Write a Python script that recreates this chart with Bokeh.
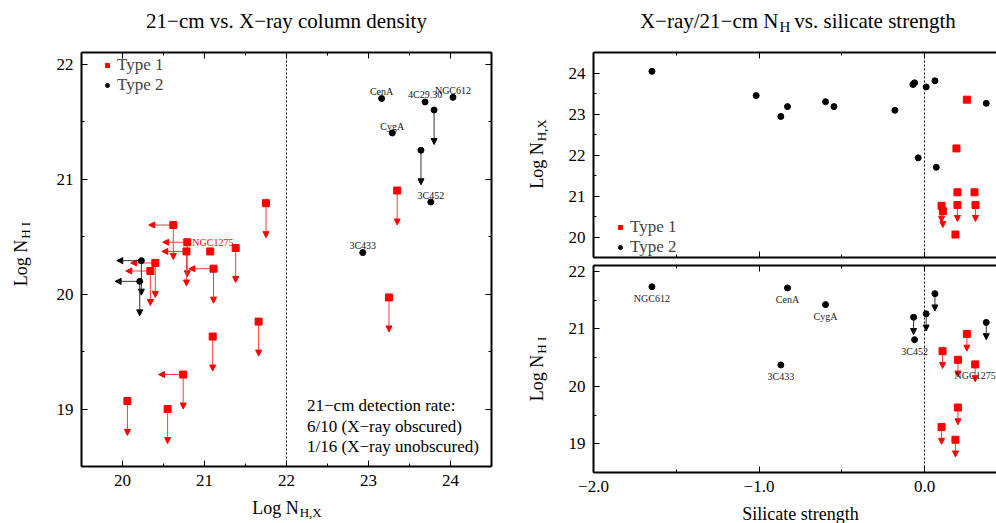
import numpy as np
from bokeh.plotting import figure
from bokeh.models import (ColumnDataSource, Arrow, NormalHead, Span, LinearAxis,
                          FixedTicker, Legend, LegendItem, Range1d, CustomJSTickFormatter)
from bokeh.layouts import row, column
from bokeh.embed import file_html
from bokeh.resources import INLINE
from bokeh.core.properties import value

FONT = "Liberation Serif"
RED = "#ff0000"
BLACK = "#000000"

# ---------------- data: left panel (Log NH,X vs Log NHI) ----------------
t1_nhx = [21.75, 20.62, 20.79, 20.78, 21.07, 21.38, 20.40, 20.34, 21.11, 21.66, 21.10, 20.74, 20.06, 20.55, 23.35, 23.25]
t1_nhi = [20.79, 20.60, 20.45, 20.37, 20.37, 20.40, 20.27, 20.20, 20.22, 19.76, 19.63, 19.30, 19.07, 19.00, 20.90, 19.97]
t1_xlim = [0, 1, 1, 1, 0, 0, 1, 1, 1, 0, 0, 1, 0, 0, 0, 0]
t1_ylim = [1, 1, 1, 1, 0, 1, 1, 1, 1, 1, 1, 1, 1, 1, 1, 1]
t1_names = ["", "", "NGC1275", "", "", "", "", "", "", "", "", "", "", "", "", ""]

t2_nhx = [20.23, 20.21, 23.16, 23.69, 24.03, 23.80, 23.29, 23.64, 23.76, 22.93]
t2_nhi = [20.29, 20.11, 21.70, 21.67, 21.71, 21.60, 21.40, 21.25, 20.80, 20.36]
t2_xlim = [1, 1, 0, 0, 0, 0, 0, 0, 0, 0]
t2_ylim = [1, 1, 0, 0, 0, 1, 0, 1, 0, 0]
t2_names = ["", "", "CenA", "4C29.30", "NGC612", "", "CygA", "", "3C452", "3C433"]

# ---------------- data: right top (silicate vs Log NH,X) ----------------
rt1_sil = [0.256, 0.193, 0.199, 0.302, 0.103, 0.111, 0.199, 0.308, 0.187]
rt1_nhx = [23.35, 22.16, 21.09, 21.09, 20.76, 20.63, 20.78, 20.78, 20.06]
rt1_ylim = [0, 0, 0, 0, 1, 1, 1, 1, 0]
rt2_sil = [-1.647, -1.017, -0.868, -0.828, -0.598, -0.547, -0.179, -0.070, -0.060, 0.010, 0.063, 0.373, -0.038, 0.071]
rt2_nhx = [24.04, 23.45, 22.94, 23.18, 23.30, 23.18, 23.09, 23.72, 23.76, 23.66, 23.81, 23.26, 21.93, 21.70]

# ---------------- data: right bottom (silicate vs Log NHI) ----------------
rb1_sil = [0.256, 0.109, 0.202, 0.306, 0.202, 0.103, 0.187]
rb1_nhi = [20.91, 20.61, 20.46, 20.38, 19.63, 19.29, 19.07]
rb1_ylim = [1, 1, 1, 1, 1, 1, 1]
rb1_names = ["", "", "", "NGC1275", "", "", ""]
rb2_sil = [-1.647, -0.828, -0.598, -0.868, -0.066, 0.010, 0.063, 0.373, -0.060]
rb2_nhi = [21.73, 21.71, 21.42, 20.37, 21.20, 21.26, 21.61, 21.11, 20.81]
rb2_ylim = [0, 0, 0, 0, 1, 1, 1, 1, 0]
rb2_names = ["NGC612", "CenA", "CygA", "3C433", "", "", "", "", "3C452"]

# note in the left panel
note_lines = ["21\u2212cm detection rate:", "6/10 (X\u2212ray obscured)", "1/16 (X\u2212ray unobscured)"]
note_x = 22.25
note_y = [19.03, 18.85, 18.67]

# ticks
left_xticks = [20, 21, 22, 23, 24]
left_xminor = [19.5, 20.5, 21.5, 22.5, 23.5, 24.5]
left_yticks = [19, 20, 21, 22]
left_yminor = [18.5, 19.5, 20.5, 21.5]
rt_yticks = [20, 21, 22, 23, 24]
rt_yminor = [19.5, 20.5, 21.5, 22.5, 23.5, 24.5]
sil_ticks = [-2, -1, 0]
sil_minor = [-1.5, -0.5]
sil_labels = {-2: "\u22122.0", -1: "\u22121.0", 0: "0.0"}

ARROW_LEFT = 0.3     # dex, length of limit arrows in the left panel
ARROW_RT = 0.4       # right top
ARROW_RB = 0.3       # right bottom

CW = {'L': .611, 'o': .5, 'g': .5, ' ': .25, 'N': .722, 'H': .722, 'I': .333, ',': .25, 'X': .722,
      '\u2212': .564, 'r': .333, 'a': .444, 'y': .5, '/': .278, '2': .5, '1': .5, 'c': .444, 'm': .778}


def tw(s, size):
    return sum(CW.get(ch, 0.5) for ch in s) * size


def make_fig(w, h, xr, yr, mb):
    p = figure(width=w, height=h, x_range=Range1d(*xr), y_range=Range1d(*yr),
               output_backend="svg", toolbar_location=None,
               x_axis_location=None, y_axis_location=None,
               min_border_left=mb[0], min_border_right=mb[1], min_border_top=mb[2], min_border_bottom=mb[3])
    p.outline_line_color = None
    p.xgrid.grid_line_color = None
    p.ygrid.grid_line_color = None
    p.background_fill_color = "white"
    p.border_fill_color = "white"
    return p


def strip(w, h):
    """A blank text carrier whose frame is the whole canvas, coordinates in pixels (y down)."""
    s = figure(width=w, height=h, x_range=Range1d(0, w), y_range=Range1d(h, 0),
               output_backend="svg", toolbar_location=None,
               x_axis_location=None, y_axis_location=None,
               min_border_left=0, min_border_right=0, min_border_top=0, min_border_bottom=0)
    s.outline_line_color = None
    s.xgrid.grid_line_color = None
    s.ygrid.grid_line_color = None
    s.background_fill_color = "white"
    s.border_fill_color = "white"
    return s


def stxt(s, x, y, text, size, align="center", baseline="middle", angle=0.0, color="black"):
    s.text(x=[x], y=[y], text=[text], text_font=value(FONT), text_font_size=f"{size}px",
           text_align=align, text_baseline=baseline, angle=angle, text_color=color)


def sub_text(s, cx, cy, main, sub, rotated=False, size=18, subsize=13):
    wm = tw(main, size)
    ws = tw(sub, subsize)
    if not rotated:
        xN = cx - (wm + ws) / 2 + wm
        stxt(s, xN, cy, main, size, align="right")
        stxt(s, xN + 1, cy + 5, sub, subsize, align="left")
    else:
        yN = cy + (wm + ws) / 2 - wm
        stxt(s, cx, yN, main, size, align="right", angle=np.pi / 2)
        stxt(s, cx + 5, yN - 1, sub, subsize, align="left", angle=np.pi / 2)


def make_axis(ticks, minor, show, overrides=None):
    ax = LinearAxis(ticker=FixedTicker(ticks=ticks, minor_ticks=minor))
    ax.axis_line_width = 2
    ax.axis_line_color = "black"
    ax.major_tick_in = 6
    ax.major_tick_out = 0
    ax.minor_tick_in = 3
    ax.minor_tick_out = 0
    ax.major_tick_line_color = "black"
    ax.minor_tick_line_color = "black"
    ax.axis_label = None
    ax.major_label_text_font = FONT
    ax.major_label_text_color = "black"
    if show:
        ax.major_label_text_font_size = "17px"
        ax.major_label_standoff = 8
        if overrides:
            ax.major_label_overrides = overrides
    else:
        ax.formatter = CustomJSTickFormatter(code="return ''")
        ax.major_label_text_font_size = "1px"
        ax.major_label_standoff = 0
    return ax


def add_arrows(p, xs, ys, dx, dy, color, lcolor):
    xs = np.asarray(xs, float)
    ys = np.asarray(ys, float)
    if len(xs) == 0:
        return
    src = ColumnDataSource(dict(x0=xs, y0=ys, x1=xs - dx, y1=ys - dy))
    a = Arrow(end=NormalHead(size=6, fill_color=color, line_color=color, line_width=1),
              x_start="x0", y_start="y0", x_end="x1", y_end="y1", source=src,
              line_color=lcolor, line_width=1, level="underlay")
    p.add_layout(a)


def limit_arrows(p, xs, ys, xflag, yflag, length, color, lcolor):
    xs = np.asarray(xs, float); ys = np.asarray(ys, float)
    xf = np.asarray(xflag, bool); yf = np.asarray(yflag, bool)
    add_arrows(p, xs[xf], ys[xf], length, 0.0, color, lcolor)
    add_arrows(p, xs[yf], ys[yf], 0.0, length, color, lcolor)


def name_text(p, xs, ys, names, color, below=False, right=False):
    sel = [i for i, n in enumerate(names) if n]
    src = ColumnDataSource(dict(x=[xs[i] for i in sel], y=[ys[i] for i in sel], t=[names[i] for i in sel]))
    if right:
        p.text(x="x", y="y", text="t", source=src, text_font=value(FONT), text_font_size="10px",
               text_align="left", text_baseline="middle", x_offset=5, text_color=color)
    elif below:
        p.text(x="x", y="y", text="t", source=src, text_font=value(FONT), text_font_size="10px",
               text_align="center", text_baseline="top", y_offset=6, text_color=color)
    else:
        p.text(x="x", y="y", text="t", source=src, text_font=value(FONT), text_font_size="10px",
               text_align="center", text_baseline="alphabetic", y_offset=-7, text_color=color)


def legend(p, r1, r2, loc):
    leg = Legend(items=[LegendItem(label="Type 1", renderers=[r1]), LegendItem(label="Type 2", renderers=[r2])],
                 location=loc, label_text_font=FONT, label_text_font_size="17px",
                 glyph_width=10, glyph_height=18, label_height=18, label_standoff=5,
                 spacing=0, padding=0, margin=0, background_fill_alpha=0, border_line_color=None)
    p.add_layout(leg)


# ================= left block (page x 0..507) =================
tL = strip(507, 38)
stxt(tL, 286, 20, "21\u2212cm vs. X\u2212ray column density", 21)

yL = strip(44, 456)
sub_text(yL, 20, 221, "Log N", "H I", rotated=True)

pL = make_fig(463, 456, (19.5, 24.5), (18.5, 22.1), (37, 16, 14, 28))
pL.add_layout(make_axis(left_xticks, left_xminor, True), "below")
pL.add_layout(make_axis(left_xticks, left_xminor, False), "above")
pL.add_layout(make_axis(left_yticks, left_yminor, True), "left")
pL.add_layout(make_axis(left_yticks, left_yminor, False), "right")
pL.add_layout(Span(location=22, dimension="height", line_dash="2 2", line_color="black", line_width=1))

limit_arrows(pL, t1_nhx, t1_nhi, t1_xlim, t1_ylim, ARROW_LEFT, RED, "#ff3b3b")
limit_arrows(pL, t2_nhx, t2_nhi, t2_xlim, t2_ylim, ARROW_LEFT, BLACK, "#333333")
rL1 = pL.scatter(x=t1_nhx, y=t1_nhi, marker="square", size=7, color=RED)
rL2 = pL.scatter(x=t2_nhx, y=t2_nhi, marker="circle", size=6, color=BLACK)
name_text(pL, t1_nhx, t1_nhi, t1_names, RED, right=True)
name_text(pL, t2_nhx, t2_nhi, t2_names, "#111111")
legend(pL, rL1, rL2, (21, 371))
pL.text(x=[note_x] * len(note_lines), y=note_y, text=note_lines, text_font=value(FONT),
        text_font_size="17px", text_align="left", text_baseline="middle", text_color="black")

xL = strip(507, 29)
sub_text(xL, 286, 13, "Log N", "H,X")

left_block = column(tL, row(yL, pL), xL)

# ================= right block (page x 507..996) =================
tR = strip(489, 38)
title_cx = 293
wa = tw("X\u2212ray/21\u2212cm N", 21)
wb = tw("H", 15)
wc = 7.944 * 21
x0 = title_cx - (wa + wb + 5 + wc) / 2
stxt(tR, x0 + wa, 20, "X\u2212ray/21\u2212cm N", 21, align="right")
stxt(tR, x0 + wa + 1, 26, "H", 15, align="left")
stxt(tR, x0 + wa + wb + 5, 20, "vs. silicate strength", 21, align="left")

yR = strip(56, 461)
sub_text(yR, 29, 116, "Log N", "H,X", rotated=True)
sub_text(yR, 29, 331, "Log N", "H I", rotated=True)

XR_SIL = (-2.0, 0.435)
pRT = make_fig(433, 223, XR_SIL, (19.5, 24.5), (30, 0, 14, 4))
pRT.add_layout(make_axis(sil_ticks, sil_minor, False), "below")
pRT.add_layout(make_axis(sil_ticks, sil_minor, False), "above")
pRT.add_layout(make_axis(rt_yticks, rt_yminor, True), "left")
pRT.add_layout(Span(location=0, dimension="height", line_dash="2 2", line_color="black", line_width=1))
limit_arrows(pRT, rt1_sil, rt1_nhx, [0] * len(rt1_sil), rt1_ylim, ARROW_RT, RED, "#ff3b3b")
rR1 = pRT.scatter(x=rt1_sil, y=rt1_nhx, marker="square", size=7, color=RED)
rR2 = pRT.scatter(x=rt2_sil, y=rt2_nhx, marker="circle", size=6, color=BLACK)
legend(pRT, rR1, rR2, (22, 0))

pRB = make_fig(433, 238, XR_SIL, (18.5, 22.1), (30, 0, 4, 27))
pRB.add_layout(make_axis(sil_ticks, sil_minor, True, sil_labels), "below")
pRB.add_layout(make_axis(sil_ticks, sil_minor, False), "above")
pRB.add_layout(make_axis(left_yticks, left_yminor, True), "left")
pRB.add_layout(Span(location=0, dimension="height", line_dash="2 2", line_color="black", line_width=1))
limit_arrows(pRB, rb1_sil, rb1_nhi, [0] * len(rb1_sil), rb1_ylim, ARROW_RB, RED, "#ff3b3b")
limit_arrows(pRB, rb2_sil, rb2_nhi, [0] * len(rb2_sil), rb2_ylim, ARROW_RB, BLACK, "#333333")
pRB.scatter(x=rb1_sil, y=rb1_nhi, marker="square", size=7, color=RED)
pRB.scatter(x=rb2_sil, y=rb2_nhi, marker="circle", size=6, color=BLACK)
name_text(pRB, rb1_sil, rb1_nhi, rb1_names, "#222222", below=True)
name_text(pRB, rb2_sil, rb2_nhi, rb2_names, "#222222", below=True)

xR = strip(489, 24)
stxt(xR, 293, 14, "Silicate strength", 18)

right_block = column(tR, row(yR, column(pRT, pRB)), xR)

layout = row(left_block, right_block)
open("out.html", "w").write(file_html(layout, INLINE))
